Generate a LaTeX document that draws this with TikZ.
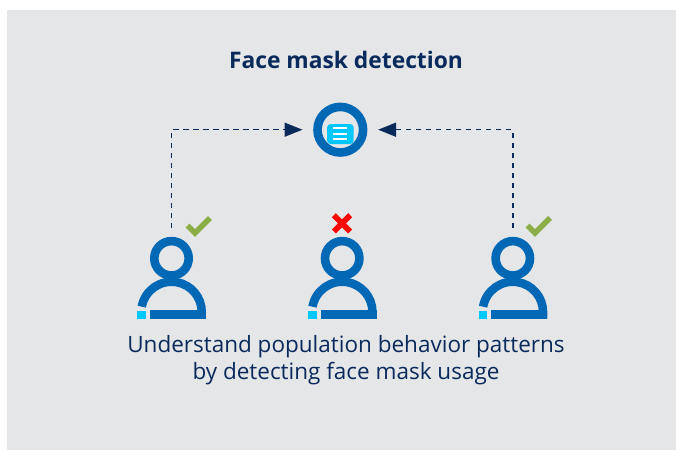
\documentclass[tikz,border=0pt]{standalone}
\usepackage{fontspec}
\setmainfont{Open Sans}
\usetikzlibrary{arrows.meta}
\definecolor{bgc}{HTML}{E4E6E8}
\definecolor{blu}{HTML}{0068B5}
\definecolor{cya}{HTML}{00C7FD}
\definecolor{nav}{HTML}{0A2A5C}
\definecolor{grn}{HTML}{8BAE46}
\tikzset{
  link/.style={draw=nav,line width=1.5pt,dash pattern=on 5.5pt off 4.5pt,-{Triangle[length=18pt,width=14pt,fill=nav]},shorten >=15pt},
  tick/.style={draw=grn,line width=5.5pt,line join=miter},
  cross/.style={draw=red,line width=5.6pt},
  ring/.style={draw=blu,line width=8.6pt,circle,inner sep=0pt,outer sep=0pt,minimum size=#1},
  title/.style={font=\fontsize{22.8}{27}\selectfont\bfseries,text=nav},
  caption/.style={font=\fontsize{22.5}{27}\selectfont,text=nav,align=center},
  person/.pic={
    \node[ring=34.4pt] (-head) at (0,-13) {};
    \draw[blu,line width=8.5pt] (-29.7,35.4) arc[start angle=190,end angle=360,radius=30.2] -- (30.2,47.4);
    \fill[blu] (-21.5,38.7) rectangle (34.45,47.4);
    \fill[cya] (-34.3,39.7) rectangle (-25.5,47.6);
    \coordinate (-top) at (0,-43.3);
  }
}
\begin{document}
\begin{tikzpicture}[x=1pt,y=-1pt]
\useasboundingbox (0,0) rectangle (676,450);
\fill[white] (0,0) rectangle (676,450);
\fill[bgc] (7,10) rectangle (676,450);
\node[title] (head) at (346,60) {Face mask detection};
\node[ring=45.6pt] (mask) at (340.3,129.7) {};
\node[fill=cya,rounded corners=3.5pt,minimum width=26.5pt,minimum height=20pt,inner sep=0pt] (doc) at (340.4,134) {};
\foreach \yy in {128.4,134,139.4} \draw[white,line width=2pt] (333.3,\yy) -- (347.4,\yy);
\pic (pa) at (171.5,271.3) {person};
\pic (pb) at (342.2,271.3) {person};
\pic (pc) at (512.8,271.3) {person};
\draw[link] (pa-top) |- (mask.west);
\draw[link] (pc-top) |- (mask.east);
\draw[tick] (187.5,225.5) -- (195,233) -- (210,218);
\draw[tick] (527.5,225.5) -- (535,233) -- (550,218);
\draw[cross] (333.8,215.2) -- (350.2,231.5) (350.2,215.2) -- (333.8,231.5);
\node[caption] (cap) at (346,360.5) {Understand population behavior patterns\\by detecting face mask usage};
\end{tikzpicture}
\end{document}
